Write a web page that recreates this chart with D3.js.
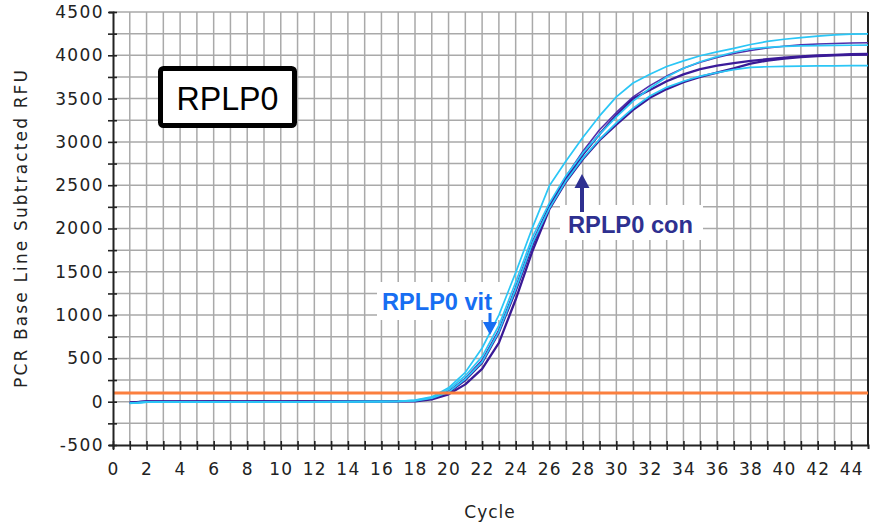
<!DOCTYPE html>
<html>
<head>
<meta charset="utf-8">
<script src="https://cdn.jsdelivr.net/npm/d3@7"></script>
<style>
  html, body { margin: 0; padding: 0; background: #fff; }
  svg { display: block; }
</style>
</head>
<body>
<svg id="chart" width="872" height="523"></svg>
<script>
// ---------- data ----------
const cycles = [1,2,3,4,5,6,7,8,9,10,11,12,13,14,15,16,17,18,19,20,21,22,23,24,25,26,27,28,29,30,31,32,33,34,35,36,37,38,39,40,41,42,43,44,45];

const vitA = [-20,-4,-3,-2,-4,-3,-2,-3,-4,-2,-3,-2,0,-1,0,2,5,
  18,55,160,340,620,1000,1490,2010,2490,2780,3050,3300,3520,3680,3780,3870,3935,3995,4040,4080,4125,4160,4185,4205,4222,4235,4245,4248];
const vitB = [-18,-5,-4,-3,-3,-4,-2,-2,-3,-3,-2,-1,-1,0,1,3,4,
  15,48,140,300,520,880,1380,1900,2290,2610,2870,3090,3290,3470,3620,3750,3850,3925,3985,4035,4075,4092,4102,4108,4112,4114,4116,4117];
const vitC = [-16,-6,-5,-4,-3,-3,-4,-3,-2,-3,-2,-2,-1,0,0,2,3,
  10,40,110,260,460,810,1300,1830,2230,2550,2810,3030,3220,3390,3530,3630,3700,3760,3800,3835,3860,3868,3872,3875,3877,3878,3880,3880];
const conA = [-8,4,3,2,3,2,4,3,2,3,2,3,4,2,3,5,6,
  12,42,120,270,480,830,1320,1850,2260,2600,2890,3140,3340,3520,3650,3760,3850,3920,3975,4020,4055,4085,4105,4120,4130,4137,4142,4145];
const conB = [-10,3,2,4,2,3,2,3,4,2,3,2,3,3,4,4,6,
  10,38,105,250,450,800,1280,1810,2250,2570,2850,3090,3310,3500,3600,3700,3780,3840,3880,3910,3935,3955,3972,3988,3998,4006,4012,4015];
const conC = [-12,2,3,2,4,3,3,2,3,4,3,3,2,4,3,5,5,
  5,28,85,200,380,680,1180,1740,2220,2540,2800,3020,3200,3370,3510,3610,3690,3750,3800,3850,3905,3940,3962,3978,3990,3998,4004,4008];

const threshold = 100;
const xTickLabels = [0,2,4,6,8,10,12,14,16,18,20,22,24,26,28,30,32,34,36,38,40,42,44];
const yTickLabels = [-500,0,500,1000,1500,2000,2500,3000,3500,4000,4500];
const yMinorTicks = [-500,-250,0,250,500,750,1000,1250,1500,1750,2000,2250,2500,2750,3000,3250,3500,3750,4000,4250,4500];
const xGridCycles = [1,2,3,4,5,6,7,8,9,10,11,12,13,14,15,16,17,18,19,20,21,22,23,24,25,26,27,28,29,30,31,32,33,34,35,36,37,38,39,40,41,42,43,44,45];

const seriesList = [
  {name: "con A", values: conA, color: "#5230ab", width: 1.6},
  {name: "con B", values: conB, color: "#3b1c9a", width: 2.3},
  {name: "con C", values: conC, color: "#3a1a96", width: 2.3},
  {name: "vit A", values: vitA, color: "#2bc6f6", width: 1.7},
  {name: "vit B", values: vitB, color: "#2bc6f6", width: 1.7},
  {name: "vit C", values: vitC, color: "#2bc6f6", width: 1.7}
];

// ---------- layout ----------
const L = 113, R = 868, T = 12, B = 445;
const svg = d3.select("#chart");
const x = d3.scaleLinear().domain([0, 45]).range([L, R]);
const y = d3.scaleLinear().domain([-500, 4500]).range([B, T]);
const FONT = "'DejaVu Sans', Verdana, sans-serif";

// grid
const grid = svg.append("g").attr("stroke", "#a9a9a9").attr("stroke-width", 1.5);
grid.selectAll("line.v").data(xGridCycles.filter(d => d < 45)).join("line")
  .attr("x1", d => x(d)).attr("x2", d => x(d)).attr("y1", T).attr("y2", B);
grid.selectAll("line.h").data(yMinorTicks.filter(d => d > -500)).join("line")
  .attr("x1", L).attr("x2", R).attr("y1", d => y(d)).attr("y2", d => y(d));

// right border
svg.append("line").attr("x1", R).attr("x2", R).attr("y1", T).attr("y2", B)
  .attr("stroke", "#222").attr("stroke-width", 2);

// annotation boxes (white backgrounds)
svg.append("rect").attr("x", 377).attr("y", 282).attr("width", 123).attr("height", 38).attr("fill", "#fff");
svg.append("rect").attr("x", 560).attr("y", 205).attr("width", 143).attr("height", 35).attr("fill", "#fff");

// title box
svg.append("rect").attr("x", 160.5).attr("y", 68.5).attr("width", 134).attr("height", 57)
  .attr("rx", 3).attr("fill", "#fff").attr("stroke", "#000").attr("stroke-width", 5);
svg.append("text").attr("x", 227.5).attr("y", 110).attr("text-anchor", "middle")
  .attr("font-family", "'Liberation Sans', Arial, sans-serif").attr("font-size", 34)
  .attr("textLength", 102).attr("lengthAdjust", "spacingAndGlyphs")
  .attr("fill", "#000").text("RPLP0");

// curves
svg.append("clipPath").attr("id", "clip").append("rect")
  .attr("x", L).attr("y", T).attr("width", R - L).attr("height", B - T);
const line = d3.line().x((d, i) => x(cycles[i])).y(d => y(d));
const curves = svg.append("g").attr("clip-path", "url(#clip)");
curves.selectAll("path").data(seriesList).join("path")
  .attr("d", s => line(s.values))
  .attr("fill", "none")
  .attr("stroke", s => s.color)
  .attr("stroke-width", s => s.width)
  .attr("stroke-linejoin", "round");

// threshold
svg.append("line").attr("x1", L).attr("x2", R).attr("y1", y(threshold)).attr("y2", y(threshold))
  .attr("stroke", "#fb7f3e").attr("stroke-width", 3);

// axes
const yAxis = d3.axisLeft(y).tickValues(yMinorTicks).tickSize(4)
  .tickFormat(d => yTickLabels.includes(d) ? String(d) : "");
const gy = svg.append("g").attr("transform", `translate(${L},0)`).call(yAxis);
gy.select(".domain").attr("stroke", "#222").attr("stroke-width", 2);
gy.selectAll(".tick line").attr("x1", 4).attr("x2", -5).attr("stroke", "#222").attr("stroke-width", 1.6);
gy.selectAll(".tick text").attr("x", -9).attr("font-family", FONT).attr("font-size", 17)
  .attr("letter-spacing", "1.4px").attr("fill", "#222");

const xAxis = d3.axisBottom(x).tickValues([0].concat(xGridCycles.filter(d => d < 45))).tickSize(4)
  .tickFormat(d => xTickLabels.includes(d) ? String(d) : "");
const gx = svg.append("g").attr("transform", `translate(0,${B})`).call(xAxis);
gx.select(".domain").attr("stroke", "#222").attr("stroke-width", 2);
gx.selectAll(".tick line").attr("y1", -4).attr("y2", 5).attr("stroke", "#222").attr("stroke-width", 1.6);
gx.selectAll(".tick text").attr("y", 25).attr("dy", "0.32em").attr("font-family", FONT).attr("font-size", 17)
  .attr("letter-spacing", "1.2px").attr("fill", "#222");

// axis titles
svg.append("text").attr("transform", "translate(27,229) rotate(-90)")
  .attr("text-anchor", "middle").attr("font-family", FONT).attr("font-size", 17)
  .attr("textLength", 318).attr("lengthAdjust", "spacing")
  .attr("fill", "#222").text("PCR Base Line Subtracted RFU");
svg.append("text").attr("x", 490).attr("y", 518).attr("text-anchor", "middle")
  .attr("font-family", FONT).attr("font-size", 17).attr("letter-spacing", "1px")
  .attr("fill", "#222").text("Cycle");

// annotations
svg.append("text").attr("x", 382).attr("y", 310)
  .attr("font-family", "'Liberation Sans', Arial, sans-serif").attr("font-weight", "bold")
  .attr("font-size", 24).attr("textLength", 110).attr("lengthAdjust", "spacingAndGlyphs")
  .attr("fill", "#176ef2").text("RPLP0 vit");
svg.append("line").attr("x1", 490).attr("x2", 490).attr("y1", 313).attr("y2", 324)
  .attr("stroke", "#176ef2").attr("stroke-width", 3);
svg.append("path").attr("d", "M483,322 L497,322 L490,335 Z").attr("fill", "#176ef2");

svg.append("text").attr("x", 568).attr("y", 233)
  .attr("font-family", "'Liberation Sans', Arial, sans-serif").attr("font-weight", "bold")
  .attr("font-size", 24).attr("textLength", 125).attr("lengthAdjust", "spacingAndGlyphs")
  .attr("fill", "#2e3090").text("RPLP0 con");
svg.append("line").attr("x1", 582).attr("x2", 582).attr("y1", 212).attr("y2", 186)
  .attr("stroke", "#2e3090").attr("stroke-width", 4);
svg.append("path").attr("d", "M574.5,188 L589.5,188 L582,174 Z").attr("fill", "#2e3090");
</script>
</body>
</html>
